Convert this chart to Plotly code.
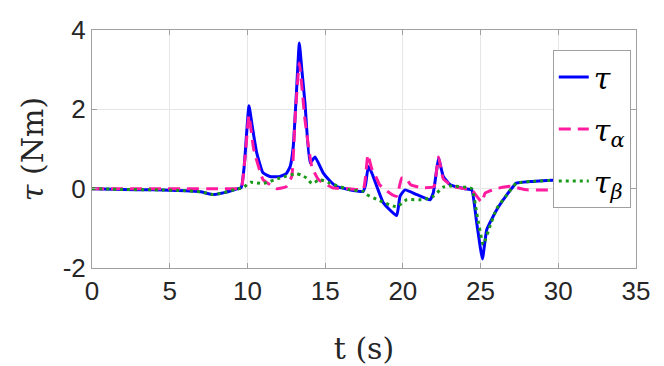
import plotly.graph_objects as go

# tau (total)
t_tau = [0, 2, 4, 6, 7, 7.8, 8.5, 9.2, 9.6, 9.8, 10.1, 10.3, 10.6, 11.0, 11.5, 12.1, 12.5, 12.75, 12.95, 13.15,
         13.34, 13.5, 13.7, 14.03, 14.35, 14.87, 15.3, 15.7, 16.5, 17.45, 17.6, 17.78, 18.0, 18.75, 19.6, 19.82,
         20.14, 20.9, 21.75, 21.96, 22.15, 22.3, 22.6, 23.04, 24.0, 24.43, 24.75, 25.12, 25.4, 26.04, 26.7, 27.3,
         28.2, 30]
y_tau = [0, -0.02, -0.03, -0.05, -0.08, -0.15, -0.1, -0.02, 0.03, 0.6, 2.09, 1.6, 0.9, 0.4, 0.3, 0.31, 0.38, 0.56,
         1.07, 2.4, 3.67, 3.0, 2.17, 0.65, 0.8, 0.4, 0.2, 0.06, -0.02, -0.07, 0.1, 0.56, 0.4, -0.36, -0.68, -0.19,
         -0.03, -0.15, -0.28, -0.1, 0.4, 0.77, 0.31, 0.1, 0.0, -0.03, -0.86, -1.77, -1.03, -0.53, -0.15, 0.14,
         0.18, 0.22]

# tau_alpha
t_alpha = [0, 3, 6, 8, 9.2, 9.6, 9.85, 10.1, 10.4, 11.0, 11.45, 11.9, 12.5, 12.85, 13.06, 13.34, 13.7, 14.14, 14.57,
           15.5, 16.5, 17.45, 17.6, 17.75, 18.0, 18.3, 18.5, 19.3, 19.6, 19.93, 20.2, 20.5, 21.3, 22.0, 22.15, 22.3,
           22.6, 23.25, 24.43, 24.75, 25.08, 25.3, 26.0, 26.9, 28, 30]
y_alpha = [0, 0, 0, 0, 0, 0.02, 0.8, 1.85, 1.0, 0.23, 0.1, 0.0, 0.05, 0.31, 1.74, 3.17, 1.74, 0.56, 0.23,
           0.02, 0.0, -0.02, 0.3, 0.86, 0.5, 0.27, 0.1, -0.15, -0.19, 0.27, 0.26, 0.1, 0.02, 0.05, 0.4, 0.8,
           0.25, 0.05, -0.03, -0.19, -0.34, -0.11, 0.0, 0.06, -0.03, -0.03]

# tau_beta
t_beta = [0, 2, 4, 6, 7, 7.8, 8.5, 9.2, 9.7, 10.2, 11.0, 12.1, 13.17, 13.5, 13.8, 14.14, 14.67, 15.3, 16.6, 17.45,
          17.67, 18.5, 19.6, 20.25, 21.3, 21.96, 22.6, 23.04, 24.43, 24.75, 25.17, 25.6, 26.04, 26.7, 27.3, 28.2, 30]
y_beta = [0, -0.02, -0.03, -0.05, -0.08, -0.15, -0.1, -0.02, 0.02, 0.16, 0.13, 0.27, 0.38, 0.33, 0.27, 0.13, 0.23,
          0.14, -0.03, -0.07, -0.15, -0.3, -0.46, -0.28, -0.28, -0.19, 0.04, 0.07, 0.0, -0.61, -1.41, -0.95, -0.5,
          -0.15, 0.14, 0.18, 0.22]

x_ticks = [0, 5, 10, 15, 20, 25, 30, 35]
y_ticks = [-2, 0, 2, 4]
y_ticklabels = ["-2", "0", "2", "4"]

fig = go.Figure()
fig.add_trace(go.Scatter(x=t_tau, y=y_tau, mode="lines", name="<i>τ</i>", legendgroup="a",
                         line=dict(color="#0000ff", width=3, shape="spline", smoothing=0.4)))
fig.add_trace(go.Scatter(x=t_alpha, y=y_alpha, mode="lines", name="<i>τ</i><sub><i>α</i></sub>", legendgroup="b",
                         line=dict(color="#ff1aa0", width=3, dash="12px,7px", shape="spline", smoothing=0.4)))
fig.add_trace(go.Scatter(x=t_beta, y=y_beta, mode="lines", name="<i>τ</i><sub><i>β</i></sub>", legendgroup="c",
                         line=dict(color="#1a9a1a", width=3, dash="3px,4px", shape="spline", smoothing=0.4)))

axis_common = dict(showgrid=True, gridcolor="#e6e6e6", gridwidth=1, showline=True, linecolor="#a0a0a0",
                   linewidth=1, mirror="ticks", ticks="inside", ticklen=5, tickcolor="#a0a0a0",
                   tickfont=dict(family="Liberation Sans, Arial", size=26, color="#262626"), zeroline=False,
                   automargin=False)

fig.update_xaxes(range=[0, 35], tickvals=x_ticks, **axis_common,
                 title=dict(text="t (s)", font=dict(family="DejaVu Serif, Liberation Serif", size=30, color="#262626"),
                            standoff=33))
fig.update_yaxes(range=[-2, 4], tickvals=y_ticks, ticktext=y_ticklabels, **axis_common,
                 title=dict(text="<i>τ</i> (Nm)", font=dict(family="DejaVu Serif, Liberation Serif", size=30, color="#262626"),
                            standoff=10))

fig.update_layout(
    width=664, height=366,
    margin=dict(l=92, r=28, t=30, b=98),
    plot_bgcolor="white", paper_bgcolor="white",
    showlegend=True,
    legend=dict(x=0.847, y=0.916, xanchor="left", yanchor="top", bgcolor="white",
                bordercolor="#a0a0a0", borderwidth=1, traceorder="grouped",
                font=dict(family="DejaVu Serif, Liberation Serif", size=30, color="#000000"),
                itemwidth=30, tracegroupgap=10),
)

fig.write_html("out.html", config={"displayModeBar": False},
               post_script="document.body.style.margin='0';document.body.style.overflow='hidden';")
